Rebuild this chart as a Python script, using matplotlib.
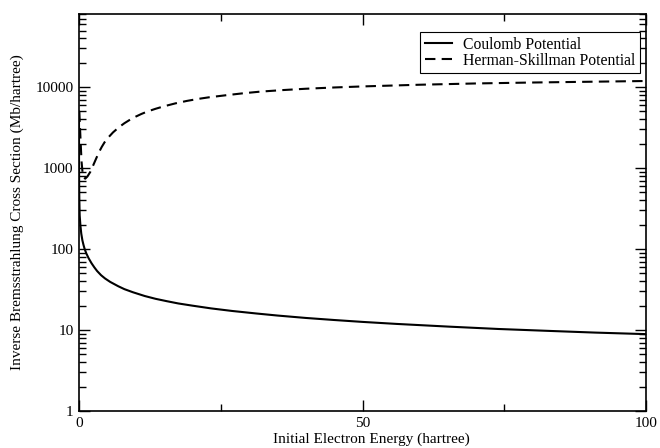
import matplotlib
matplotlib.use('Agg')
import matplotlib.pyplot as plt
from matplotlib.ticker import LogLocator, FixedLocator, NullFormatter
import numpy as np

plt.rcParams['font.family'] = ['Liberation Serif', 'DejaVu Serif']
plt.rcParams['font.size'] = 11

# energies (hartree) and cross sections (Mb/hartree)
E_coul = [0.0005, 0.002, 0.005, 0.01, 0.03, 0.06, 0.12, 0.25, 0.4, 0.6, 0.8,
          1.0, 1.3, 1.7, 2.2, 2.7, 3.2, 3.9, 4.6, 5.5, 6.9, 8.0, 9.5, 11.6,
          13.5, 15.5, 17.5, 20.0, 23.3, 27.0, 31.3, 35.0, 40.0, 45.0, 50.0,
          56.0, 65.4, 74.0, 83.0, 91.0, 100.0]
sigma_coul = [5000, 2300, 1400, 1000, 580, 400, 260, 195, 155, 128, 112,
              100, 88, 77, 67, 59.5, 53.5, 47.5, 43.3, 39.3, 34.8, 32, 29.3, 26.3,
              24.3, 22.7, 21.3, 20, 18.5, 17.2, 16, 15.1, 14.1, 13.3, 12.6,
              11.9, 11.0, 10.3, 9.75, 9.3, 8.9]

E_hs = [0.05, 0.15, 0.3, 0.45, 0.65, 0.9, 1.1, 1.5, 2.0, 2.5, 3.0, 3.5, 4.0,
        4.5, 5.0, 6.0, 7.0, 8.0, 9.0, 10.0, 11.0, 12.0, 13.5, 15.0, 17.0,
        19.0, 21.0, 23.0, 26.0, 29.0, 32.0, 36.0, 40.0, 45.0, 50.0, 60.0,
        70.0, 80.0, 90.0, 100.0]
sigma_hs = [5000, 3500, 2000, 1200, 850, 760, 740, 790, 900, 1080, 1300, 1560,
            1820, 2080, 2320, 2760, 3180, 3580, 3960, 4320, 4660, 4980, 5400,
            5800, 6300, 6750, 7150, 7500, 7950, 8400, 8800, 9200, 9550, 9900,
            10200, 10700, 11100, 11400, 11650, 11900]

fig = plt.figure(figsize=(6.6, 4.48), dpi=100)
ax = fig.add_axes([79 / 660, 37 / 448, 567 / 660, 397 / 448])

ax.plot(E_coul, sigma_coul, color='black', linewidth=1.5, linestyle='-',
        label='Coulomb Potential')
ax.plot(E_hs, sigma_hs, color='black', linewidth=1.5, linestyle=(0, (5, 3)),
        label='Herman-Skillman Potential')

ax.set_yscale('log')
ax.set_xlim(0, 100)
ax.set_ylim(1, 80000)

ax.xaxis.set_major_locator(FixedLocator([0, 50, 100]))
ax.xaxis.set_minor_locator(FixedLocator([25, 75]))
ax.yaxis.set_major_locator(FixedLocator([1, 10, 100, 1000, 10000]))
ax.yaxis.set_major_formatter(matplotlib.ticker.FuncFormatter(lambda v, p: '%d' % v))
ax.yaxis.set_minor_locator(LogLocator(base=10, subs=np.arange(2, 10), numticks=20))
ax.yaxis.set_minor_formatter(NullFormatter())

ax.tick_params(which='both', direction='in', top=True, right=True, width=1)
ax.tick_params(which='major', length=8, pad=4)
ax.tick_params(which='minor', length=5)
for s in ax.spines.values():
    s.set_linewidth(1.2)

ax.set_xlabel('Initial Electron Energy (hartree)', labelpad=0)
ax.xaxis.set_label_coords(0.515, -0.055)
ax.set_ylabel('Inverse Bremsstrahlung Cross Section (Mb/hartree)', labelpad=8)

leg = ax.legend(loc='upper right', bbox_to_anchor=(0.989, 0.955), borderaxespad=0,
                fancybox=False, framealpha=1, edgecolor='black', handlelength=1.7,
                borderpad=0.3, labelspacing=0.0, handletextpad=0.7, fontsize=11.3)
leg.get_frame().set_linewidth(0.8)

fig.savefig('out.png', dpi=100)
